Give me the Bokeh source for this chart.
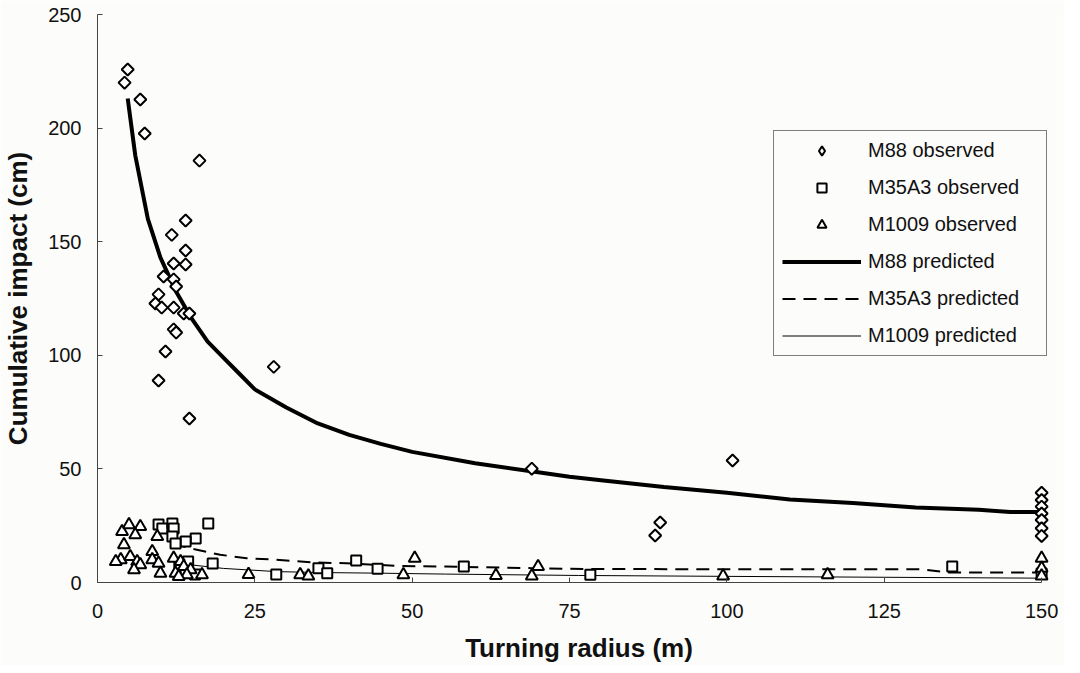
import math
from bokeh.plotting import figure
from bokeh.models import Range1d, FixedTicker, Legend, LegendItem
from bokeh.embed import file_html
from bokeh.resources import INLINE

# ---------------- data ----------------
x_ticks = [0, 25, 50, 75, 100, 125, 150]
y_ticks = [0, 50, 100, 150, 200, 250]

m88_obs_x = [4.8, 4.3, 6.8, 7.5, 16.2, 14.0, 11.8, 14.0, 12.1, 14.0, 10.5, 12.1, 12.5, 9.7,
             9.2, 10.2, 12.1, 13.7, 14.6, 12.1, 12.5, 10.8, 9.7, 14.6, 28.0, 69.0, 100.9,
             89.4, 88.6, 150, 150, 150, 150, 150, 150, 150]
m88_obs_y = [225.8, 220.0, 212.6, 197.6, 185.7, 159.3, 153.0, 146.1, 140.4, 140.0, 134.7,
             133.4, 130.3, 126.8, 122.8, 121.0, 121.0, 118.4, 118.4, 111.4, 110.0, 101.7,
             88.9, 72.2, 94.9, 50.1, 53.7, 26.4, 20.7, 39.5, 36.3, 33.4, 30.4, 27.5, 23.9, 20.5]

m35_obs_x = [9.7, 10.3, 11.9, 12.1, 11.9, 17.6, 15.6, 14.0, 12.4, 18.3, 14.4, 13.0, 14.0,
             15.5, 28.4, 35.1, 36.5, 41.1, 44.5, 58.2, 78.3, 135.8, 150]
m35_obs_y = [25.5, 23.8, 26.0, 23.8, 20.2, 26.0, 19.4, 18.0, 17.2, 8.4, 9.2, 8.0, 5.0,
             3.5, 3.5, 6.3, 4.1, 9.7, 6.0, 7.0, 3.4, 7.0, 4.0]

m1009_obs_x = [3.9, 5.0, 6.8, 6.0, 4.2, 3.7, 2.9, 5.2, 6.3, 8.7, 8.7, 9.7, 6.8, 5.8, 10.0,
               12.1, 13.2, 13.7, 14.8, 14.2, 16.6, 12.4, 12.9, 9.5, 24.0, 32.2, 33.5, 48.6,
               50.4, 63.3, 69.0, 70.0, 99.4, 116.0, 150, 150, 150]
m1009_obs_y = [22.4, 25.4, 24.6, 21.0, 16.6, 10.0, 9.2, 11.4, 9.2, 13.6, 10.0, 8.5, 7.8, 5.6,
               4.1, 10.7, 9.2, 7.0, 5.6, 3.4, 3.4, 4.1, 2.6, 20.2, 3.5, 3.4, 2.9, 3.4, 10.7,
               3.1, 2.9, 7.0, 2.9, 3.4, 10.7, 6.3, 2.9]

m88_pred_x = [4.8, 6, 8, 10, 12.5, 15, 17.5, 20, 22.5, 25, 30, 35, 40, 45, 50, 60, 70, 75,
              80, 90, 100, 110, 120, 125, 130, 140, 145, 150]
m88_pred_y = [213, 188, 160, 143, 128, 116, 106, 99, 92, 85, 77, 70, 65, 61, 57.5, 52.5,
              48.5, 46.5, 45, 42, 39.5, 36.5, 35, 34, 33, 32, 31, 31]

m35_pred_x = [12, 14.7, 19.5, 23.7, 28.4, 34.2, 39.5, 47.4, 55.3, 69, 75, 100, 131, 135, 150]
m35_pred_y = [17, 15.1, 12.2, 10.7, 10.0, 8.8, 8.5, 7.3, 7.0, 6.3, 6.0, 5.8, 5.8, 4.4, 4.4]

m1009_pred_x = [12, 14.7, 20, 28.4, 35, 44.8, 55.3, 76.4, 100, 125, 150]
m1009_pred_y = [9.5, 7.8, 6.2, 4.8, 4.4, 4.1, 3.7, 3.1, 2.7, 2.3, 1.9]

# ---------------- figure ----------------
BG = "#fcfcfa"
FONT = "Liberation Sans"

p = figure(width=1064, height=665, output_backend="svg", toolbar_location=None,
           x_range=Range1d(0, 153), y_range=Range1d(0, 250),
           min_border_left=92, min_border_right=4, min_border_top=14, min_border_bottom=73,
           background_fill_color=BG, border_fill_color=BG, outline_line_color=None)
p.grid.visible = False

for ax in (p.xaxis[0], p.yaxis[0]):
    ax.major_tick_in = 5
    ax.major_tick_out = 0
    ax.minor_tick_line_color = None
    ax.axis_line_color = "#444444"
    ax.major_tick_line_color = "#444444"
    ax.major_label_text_font = FONT
    ax.major_label_text_font_size = "20px"
    ax.major_label_text_color = "#111111"
    ax.axis_label_text_font = FONT
    ax.axis_label_text_font_size = "26px"
    ax.axis_label_text_font_style = "bold"
    ax.axis_label_text_color = "#111111"

p.xaxis.ticker = FixedTicker(ticks=x_ticks)
p.yaxis.ticker = FixedTicker(ticks=y_ticks)
p.xaxis.bounds = (0, 150)
p.xaxis.axis_label = "Turning radius (m)"
p.yaxis.axis_label = "Cumulative impact (cm)"
p.xaxis.major_label_standoff = 21
p.yaxis.major_label_standoff = 16
p.xaxis.axis_label_standoff = 12
p.yaxis.axis_label_standoff = 12

# predicted lines
l88 = p.line(m88_pred_x, m88_pred_y, line_color="black", line_width=4)
l35 = p.line(m35_pred_x, m35_pred_y, line_color="black", line_width=2, line_dash="13 8")
l1009 = p.line(m1009_pred_x, m1009_pred_y, line_color="black", line_width=1)

# observed markers
s88 = p.scatter(m88_obs_x, m88_obs_y, marker="square", angle=math.pi / 4, size=8.5,
                line_color="black", line_width=2, fill_color="white")
s35 = p.scatter(m35_obs_x, m35_obs_y, marker="square", size=10,
                line_color="black", line_width=2, fill_color="white")
s1009 = p.scatter(m1009_obs_x, m1009_obs_y, marker="triangle", size=12,
                  line_color="black", line_width=2, fill_color="white")

# legend-only diamond (legend glyphs ignore marker angle); its one point lies off-canvas
d88 = p.scatter(x=[-500], y=[-500], marker="diamond", size=10,
                line_color="black", line_width=2, fill_color="white")

legend = Legend(items=[
    LegendItem(label="M88 observed", renderers=[d88]),
    LegendItem(label="M35A3 observed", renderers=[s35]),
    LegendItem(label="M1009 observed", renderers=[s1009]),
    LegendItem(label="M88 predicted", renderers=[l88]),
    LegendItem(label="M35A3 predicted", renderers=[l35]),
    LegendItem(label="M1009 predicted", renderers=[l1009]),
], location=(676, 226))
legend.label_text_font = FONT
legend.label_text_font_size = "20px"
legend.label_text_color = "#111111"
legend.glyph_width = 79
legend.glyph_height = 23
legend.label_height = 23
legend.label_width = 170
legend.label_standoff = 7
legend.spacing = 14
legend.padding = 8
legend.margin = 0
legend.border_line_color = "black"
legend.border_line_width = 1
legend.background_fill_color = BG
legend.background_fill_alpha = 1
p.add_layout(legend, "center")

open("out.html", "w").write(file_html(p, INLINE))
